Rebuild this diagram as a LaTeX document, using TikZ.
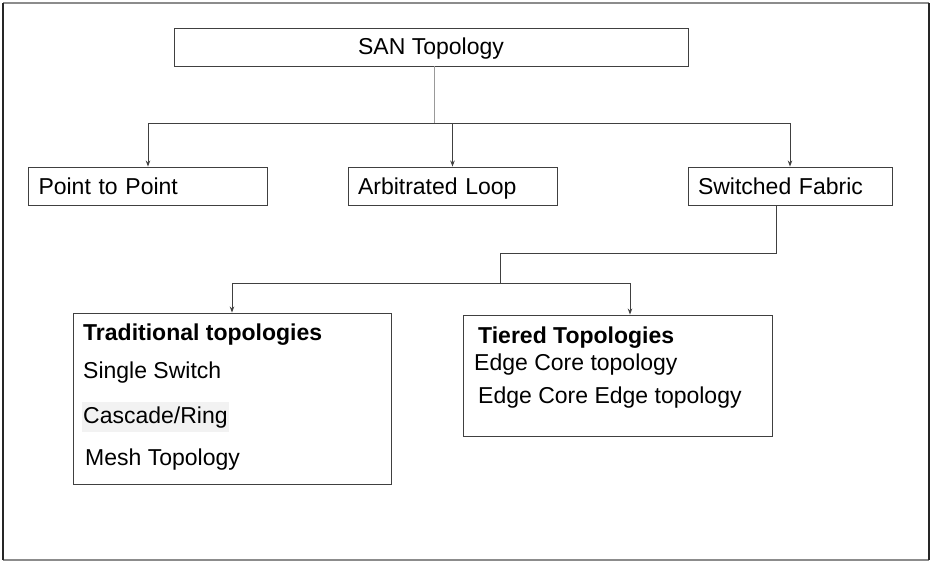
\documentclass[tikz,border=0pt]{standalone}
\usepackage{fontspec}
\setmainfont{Liberation Sans}
\usetikzlibrary{arrows.meta}

\tikzset{
  box/.style={draw=black!75, line width=0.9pt, minimum height=38pt, inner xsep=10pt, inner ysep=0pt,
    text height=20pt, text depth=2pt, align=left},
  bigbox/.style={draw=black!75, line width=0.9pt},
  item/.style={anchor=base west, inner sep=0pt},
  link/.style={draw=black!75, line width=0.9pt},
  tip/.style={-{Stealth[length=6pt,width=4.5pt]}}
}

\begin{document}
\begin{tikzpicture}[x=1pt, y=-1pt, font=\fontsize{23}{27}\selectfont]
\useasboundingbox (0,0) rectangle (935,564);
% frame
\draw[black!45, line width=2pt] (3,3) -- (929,3);
\draw[black!45, line width=2pt] (3,560) -- (929,560);
\draw[black!85, line width=1.2pt] (3,3) -- (3,560);
\draw[black!85, line width=1.2pt] (929,3) -- (929,560);

% top box
\node[box, minimum width=514pt, text height=19pt, text depth=3pt] (san) at (431,47) {SAN Topology};

% second row
\node[box, text width=219pt] (p2p) at (148,186) {Point to Point};
\node[box, text width=189pt] (arb) at (452.5,186) {Arbitrated Loop};
\node[box, text width=184pt] (sw) at (790,186) {Switched Fabric};

% lower boxes
\node[bigbox, minimum width=318pt, minimum height=171pt] (trad) at (232,398.5) {};
\node[bigbox, minimum width=309pt, minimum height=121pt] (tier) at (617.5,375.5) {};

% traditional list
\node[item, font=\fontsize{23}{27}\selectfont\bfseries] (trad-h) at (83,340) {Traditional topologies};
\node[item] (single) at (83,378) {Single Switch};
\node[item, fill=black!5, inner xsep=1pt, inner ysep=4pt] (casc) at (82,423) {Cascade/Ring};
\node[item] (mesh) at (85,465) {Mesh Topology};

% tiered list
\node[item, font=\fontsize{23}{27}\selectfont\bfseries] (tier-h) at (478,343) {Tiered Topologies};
\node[item] (ec) at (474,370) {Edge Core topology};
\node[item] (ece) at (478,403) {Edge Core Edge topology};

% connectors from the top
\coordinate (bus1) at (434,123);
\draw[black!40, line width=0.9pt] (san.south -| bus1) -- (bus1);
\draw[link, tip] (bus1) -| (p2p.north);
\draw[link, tip] (bus1) -| (arb.north);
\draw[link, tip] (bus1) -| (sw.north);

% connectors from switched fabric
\coordinate (sw-out) at ([xshift=-14pt]sw.south);
\coordinate (bend1) at (776,253);
\coordinate (bend2) at (500,253);
\coordinate (bus2) at (500,283);
\draw[link] (sw-out) -- (bend1) -- (bend2) -- (bus2);
\draw[link, tip] (bus2) -| (trad.north);
\draw[link, tip] (bus2) -| ([xshift=12.5pt]tier.north);
\end{tikzpicture}
\end{document}
